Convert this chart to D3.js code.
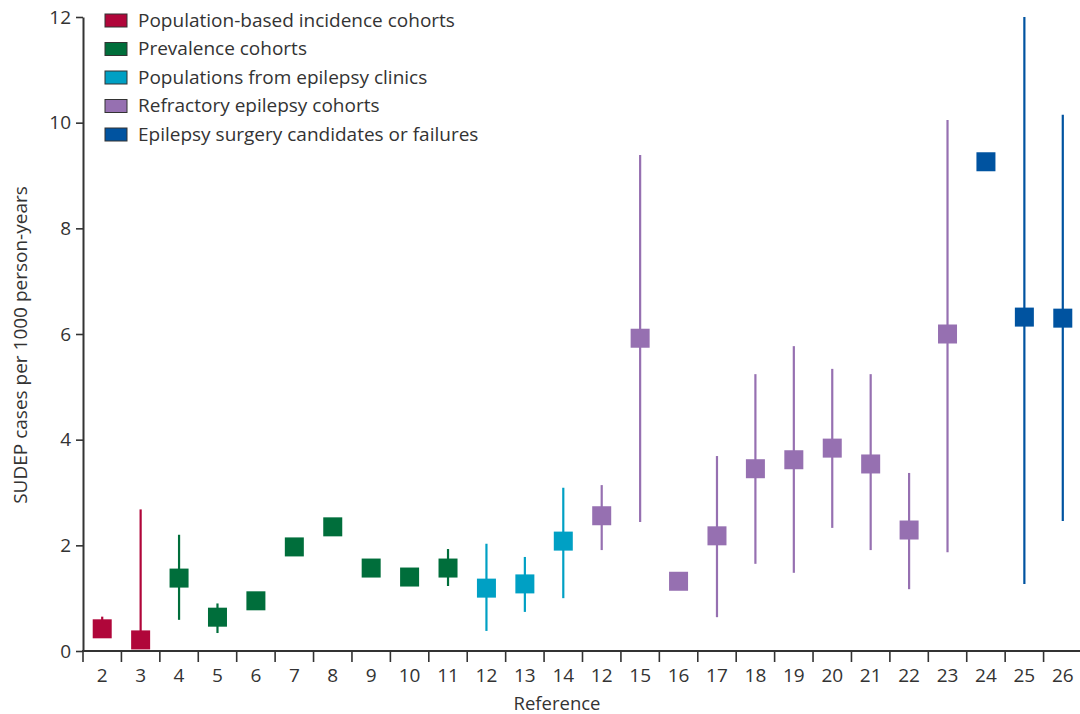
<!DOCTYPE html>
<html>
<head>
<meta charset="utf-8">
<script src="https://cdn.jsdelivr.net/npm/d3@7"></script>
<style>
  html, body { margin: 0; padding: 0; background: #fff; }
  svg text { font-family: "Open Sans", "DejaVu Sans Condensed", sans-serif; fill: #333; }
</style>
</head>
<body>
<svg id="chart" width="1080" height="714"></svg>
<script>
// Reference numbers along the x axis (12 appears twice: clinic and refractory cohorts)
const references = ["2","3","4","5","6","7","8","9","10","11","12","13","14","12","15","16","17","18","19","20","21","22","23","24","25","26"];
// Cohort group for each study
const groups = [0,0,1,1,1,1,1,1,1,1,2,2,2,3,3,3,3,3,3,3,3,3,3,4,4,4];
// SUDEP rate per 1000 person-years
const rates = [0.42,0.21,1.38,0.64,0.95,1.97,2.35,1.57,1.40,1.57,1.19,1.27,2.08,2.56,5.92,1.32,2.18,3.45,3.62,3.84,3.54,2.29,6.00,9.26,6.32,6.30];
// 95% CI bounds (null where not shown)
const lower = [0.30,0.10,0.59,0.34,null,null,null,null,null,1.23,0.38,0.74,1.00,1.91,2.44,null,0.64,1.65,1.48,2.33,1.91,1.17,1.87,null,1.27,2.46];
const upper = [0.65,2.68,2.20,0.90,null,null,null,null,null,1.93,2.03,1.78,3.09,3.14,9.39,null,3.69,5.24,5.77,5.34,5.24,3.37,10.05,null,12.0,10.15];

const groupNames = ["Population-based incidence cohorts","Prevalence cohorts","Populations from epilepsy clinics","Refractory epilepsy cohorts","Epilepsy surgery candidates or failures"];
const groupColors = ["#b0063a","#006e3b","#00a0c4","#9670b1","#0053a0"];
const yTicks = [0,2,4,6,8,10,12];

const svg = d3.select("#chart");
const margin = {left: 83, right: 1082, top: 17, bottom: 651};

const x = d3.scaleBand().domain(d3.range(references.length)).range([margin.left, margin.right]).padding(0);
const y = d3.scaleLinear().domain([0, 12]).range([margin.bottom, margin.top]);

// Y axis
const yAxis = svg.append("g").attr("transform", `translate(${margin.left},0)`)
  .call(d3.axisLeft(y).tickValues(yTicks).tickSize(7).tickPadding(5).tickSizeOuter(0));
yAxis.select(".domain").attr("stroke", "#333").attr("stroke-width", 2);
yAxis.selectAll(".tick line").attr("stroke", "#333").attr("stroke-width", 1.6);
yAxis.selectAll("text").style("font-size", "19px").attr("fill", "#333");

// X axis: ticks at band edges, labels at band centres
const xg = svg.append("g").attr("transform", `translate(0,${margin.bottom})`);
xg.append("line").attr("x1", margin.left - 1).attr("x2", 1080).attr("y1", 0).attr("y2", 0)
  .attr("stroke", "#333").attr("stroke-width", 2);
const edges = d3.range(references.length).map(i => x(i));
xg.selectAll("line.tk").data(edges).join("line").attr("class", "tk")
  .attr("x1", d => d).attr("x2", d => d).attr("y1", 0).attr("y2", 11)
  .attr("stroke", "#333").attr("stroke-width", 1.6);
xg.selectAll("text.lbl").data(references).join("text").attr("class", "lbl")
  .attr("x", (d, i) => x(i) + x.bandwidth() / 2).attr("y", 31)
  .attr("text-anchor", "middle").style("font-size", "19px").text(d => d);

// Axis titles
svg.append("text").attr("x", 557).attr("y", 710).attr("text-anchor", "middle")
  .style("font-size", "18.5px").text("Reference");
svg.append("text").attr("transform", "translate(27,345) rotate(-90)").attr("text-anchor", "middle")
  .style("font-size", "19px").text("SUDEP cases per 1000 person-years");

// Confidence interval lines
const idx = d3.range(references.length);
svg.append("g").selectAll("line").data(idx.filter(i => lower[i] != null)).join("line")
  .attr("x1", i => x(i) + x.bandwidth() / 2).attr("x2", i => x(i) + x.bandwidth() / 2)
  .attr("y1", i => y(lower[i])).attr("y2", i => y(upper[i]))
  .attr("stroke", i => groupColors[groups[i]]).attr("stroke-width", 2.2);

// Point estimates as squares
const sq = 19;
svg.append("g").selectAll("rect").data(idx).join("rect")
  .attr("x", i => x(i) + x.bandwidth() / 2 - sq / 2).attr("y", i => y(rates[i]) - sq / 2)
  .attr("width", sq).attr("height", sq)
  .attr("fill", i => groupColors[groups[i]]);

// Legend
const legend = svg.append("g").attr("transform", "translate(105,20)");
const rows = legend.selectAll("g").data(groupNames).join("g")
  .attr("transform", (d, i) => `translate(0,${i * 28.5})`);
rows.append("rect").attr("x", 0).attr("y", -6).attr("width", 22).attr("height", 13)
  .attr("fill", (d, i) => groupColors[i]).attr("stroke", "#333").attr("stroke-width", 1);
rows.append("text").attr("x", 33).attr("y", 6.5).style("font-size", "19px").text(d => d);
</script>
</body>
</html>
